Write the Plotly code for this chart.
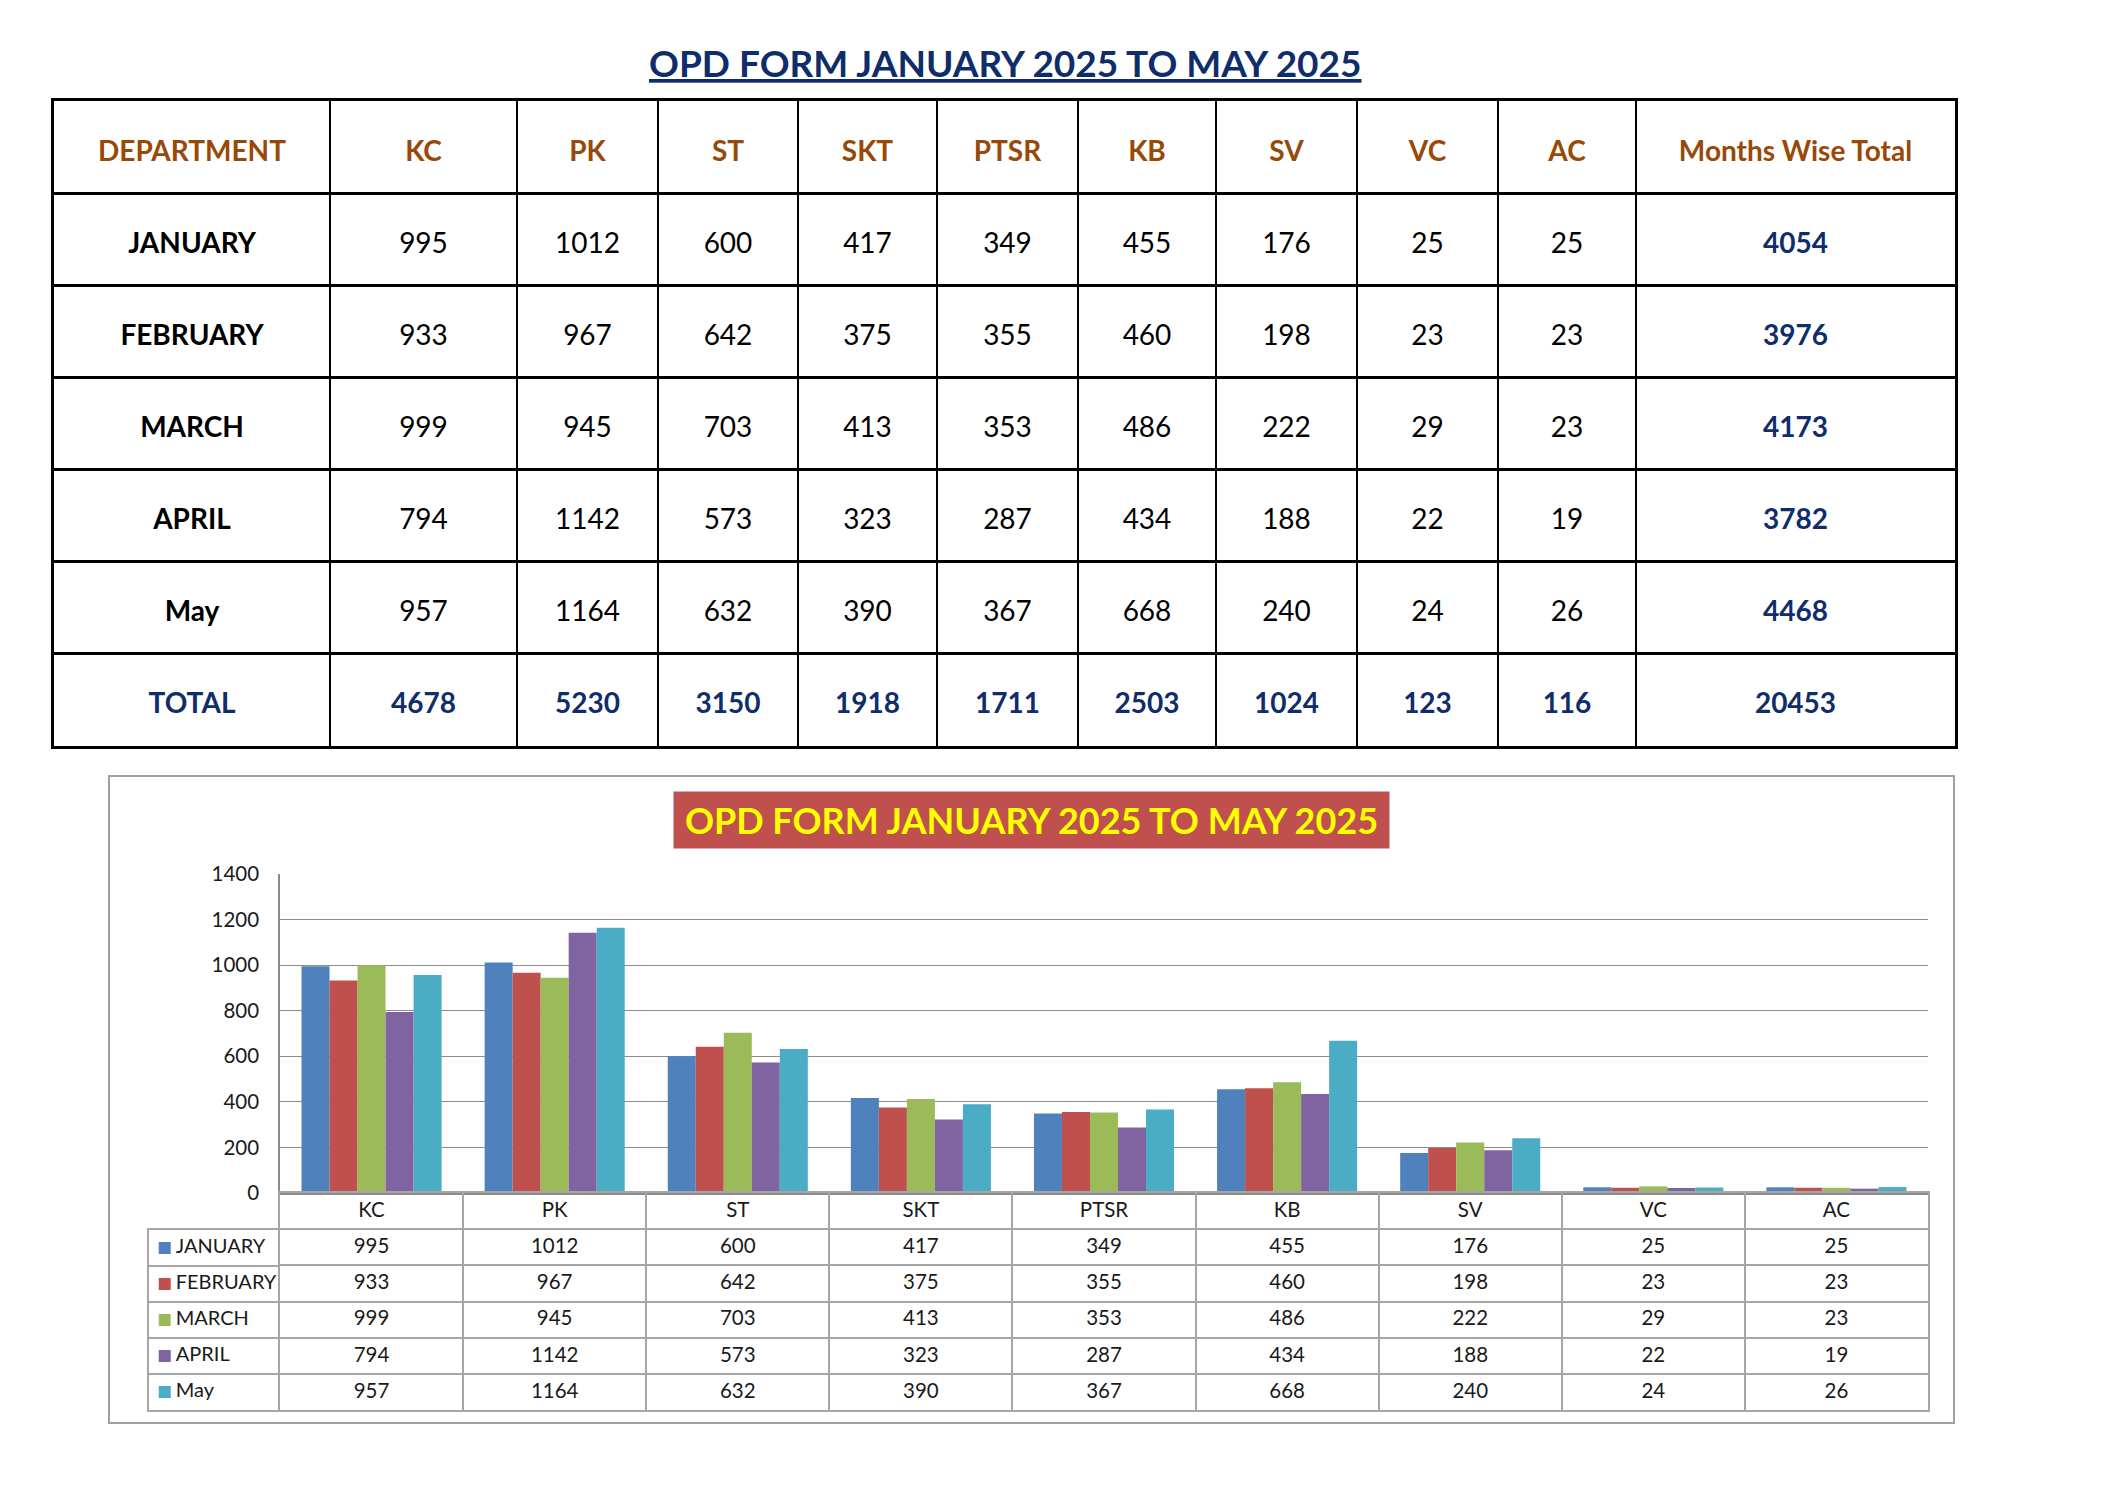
import plotly.graph_objects as go

# ---------------- data ----------------
title_text = "OPD FORM JANUARY 2025 TO MAY 2025"
departments = ["KC", "PK", "ST", "SKT", "PTSR", "KB", "SV", "VC", "AC"]
months = ["JANUARY", "FEBRUARY", "MARCH", "APRIL", "May"]
jan = [995, 1012, 600, 417, 349, 455, 176, 25, 25]
feb = [933, 967, 642, 375, 355, 460, 198, 23, 23]
mar = [999, 945, 703, 413, 353, 486, 222, 29, 23]
apr = [794, 1142, 573, 323, 287, 434, 188, 22, 19]
may = [957, 1164, 632, 390, 367, 668, 240, 24, 26]
month_totals = [4054, 3976, 4173, 3782, 4468]
dept_totals = [4678, 5230, 3150, 1918, 1711, 2503, 1024, 123, 116]
grand_total = 20453
first_header = "DEPARTMENT"
last_header = "Months Wise Total"
total_label = "TOTAL"
y_ticks = [0, 200, 400, 600, 800, 1000, 1200, 1400]

series = [jan, feb, mar, apr, may]

# ---------------- style ----------------
PAGE_OFF = 8                      # default body margin of the html page
W, H = 2104 - 2 * PAGE_OFF, 1488 - 2 * PAGE_OFF
FONT = "Lato"
NAVY = "#0F2D6B"
BROWN = "#984807"
GRID = "#8C8C8C"
TGRID = "#A6A6A6"
colors = ["#4F81BD", "#C0504D", "#9BBB59", "#8064A2", "#4BACC6"]
col_widths = [276, 187, 141, 140, 139, 141, 138, 141, 141, 138, 319]
ROW_TXT = 0.57                    # vertical text position inside a top-table row


def px_x(p):
    return (p - PAGE_OFF) / W


def px_y(p):
    return 1 - (p - PAGE_OFF) / H


bounds = [0]
for w in col_widths:
    bounds.append(bounds[-1] + w)
centers = [(bounds[i] + bounds[i + 1]) / 2 for i in range(len(col_widths))]

fig = go.Figure()

# ---------------- top table (x2 / y2) ----------------
def table_text(xs, ys, texts, color, bold, size=28):
    t = [f"<b>{s}</b>" if bold else str(s) for s in texts]
    fig.add_trace(go.Scatter(
        x=xs, y=ys, text=t, mode="text", xaxis="x2", yaxis="y2",
        textposition="middle center", cliponaxis=False, hoverinfo="skip",
        showlegend=False, textfont=dict(family=FONT, size=size, color=color)))

hdr = [first_header] + departments + [last_header]
table_text(centers, [ROW_TXT] * len(hdr), hdr, BROWN, True)
table_text([centers[0]] * len(months), [i + 1 + ROW_TXT for i in range(len(months))],
           months, "black", True)
for r, vals in enumerate(series):
    table_text(centers[1:10], [r + 1 + ROW_TXT] * len(vals), vals, "black", False)
table_text([centers[10]] * len(month_totals), [i + 1 + ROW_TXT for i in range(len(month_totals))],
           month_totals, NAVY, True)
tot_row = [total_label] + dept_totals + [grand_total]
table_text(centers, [6 + ROW_TXT] * len(tot_row), tot_row, NAVY, True)

# ---------------- bar chart (x / y) ----------------
for name, vals, c in zip(months, series, colors):
    fig.add_trace(go.Bar(x=departments, y=vals, name=name, marker=dict(color=c, line=dict(width=0)),
                         showlegend=False))

# ---------------- data table under chart (x3 / y3) ----------------
def chart_text(xs, ys, texts):
    fig.add_trace(go.Scatter(
        x=xs, y=ys, text=[str(s) for s in texts], mode="text", xaxis="x3", yaxis="y3",
        textposition="middle center", cliponaxis=False, hoverinfo="skip", showlegend=False,
        textfont=dict(family=FONT, size=20.5, color="#1A1A1A")))

idx = list(range(len(departments)))
chart_text(idx, [0.52] * len(idx), departments)
for r, vals in enumerate(series):
    chart_text(idx, [r + 1.52] * len(vals), vals)

# legend column (x4 / y4)
fig.add_trace(go.Scatter(
    x=[0.12] * len(months), y=[i + 0.5 for i in range(len(months))],
    text=["\u2009" + m for m in months],
    mode="markers+text", textposition="middle right", xaxis="x4", yaxis="y4",
    marker=dict(symbol="square", size=12, color=colors), cliponaxis=False,
    hoverinfo="skip", showlegend=False,
    textfont=dict(family=FONT, size=20, color="#1A1A1A")))

noaxis = dict(showticklabels=False, ticks="", zeroline=False)

fig.update_layout(
    width=W, height=H, margin=dict(l=0, r=0, t=0, b=0),
    paper_bgcolor="white", plot_bgcolor="white", template="none",
    font=dict(family=FONT, color="#1A1A1A"),
    barmode="group", bargap=0.235, bargroupgap=0,
    xaxis=dict(domain=[px_x(280), px_x(1928)], anchor="y", showticklabels=False, ticks="",
               showline=True, linecolor=GRID, linewidth=1.5, showgrid=False, zeroline=False,
               range=[-0.5, 8.5]),
    yaxis=dict(domain=[px_y(1193), px_y(874)], anchor="x", range=[0, 1400], tickvals=y_ticks,
               showgrid=True, gridcolor=GRID, gridwidth=1.2, showline=True, linecolor=GRID,
               linewidth=1.5, zeroline=False, ticks="", ticklabelstandoff=15,
               tickfont=dict(family=FONT, size=20.5, color="#1A1A1A")),
    xaxis2=dict(domain=[px_x(54), px_x(1955)], anchor="y2", range=[0, bounds[-1]],
                tickvals=bounds[1:-1], showgrid=True, gridcolor="black", gridwidth=2,
                showline=True, mirror=True, linecolor="black", linewidth=2.5, **noaxis),
    yaxis2=dict(domain=[px_y(746), px_y(101)], anchor="x2", range=[7, 0],
                tickvals=[1, 2, 3, 4, 5, 6], showgrid=True, gridcolor="black", gridwidth=2.5,
                showline=True, mirror=True, linecolor="black", linewidth=2.5, **noaxis),
    xaxis3=dict(domain=[px_x(280), px_x(1928)], anchor="y3", range=[-0.5, 8.5],
                tickvals=[i + 0.5 for i in range(8)], showgrid=True, gridcolor=TGRID, gridwidth=1.5,
                showline=True, mirror=True, linecolor=TGRID, linewidth=1.5, **noaxis),
    yaxis3=dict(domain=[px_y(1410), px_y(1193)], anchor="x3", range=[6, 0],
                tickvals=[1, 2, 3, 4, 5], showgrid=True, gridcolor=TGRID, gridwidth=1.5,
                showline=True, mirror=True, linecolor=TGRID, linewidth=1.5, **noaxis),
    xaxis4=dict(domain=[px_x(149), px_x(280)], anchor="y4", range=[0, 1], showgrid=False,
                showline=True, mirror=True, linecolor=TGRID, linewidth=1.5, **noaxis),
    yaxis4=dict(domain=[px_y(1410), px_y(1230)], anchor="x4", range=[5, 0],
                tickvals=[1, 2, 3, 4], showgrid=True, gridcolor=TGRID, gridwidth=1.5,
                showline=True, mirror=False, linecolor=TGRID, linewidth=1.5, **noaxis),
    shapes=[dict(type="rect", xref="paper", yref="paper", x0=px_x(109), x1=px_x(1954),
                 y0=px_y(1423), y1=px_y(776), line=dict(color="#A0A0A0", width=2),
                 fillcolor="rgba(0,0,0,0)", layer="below")],
    annotations=[
        dict(text=f"<b><u>{title_text}</u></b>", xref="paper", yref="paper",
             x=px_x(1005), y=px_y(63), showarrow=False, xanchor="center", yanchor="middle",
             font=dict(family=FONT, size=37, color=NAVY)),
        dict(text=f"<b>{title_text}</b>", xref="paper", yref="paper",
             x=px_x(1031.5), y=px_y(820), showarrow=False, xanchor="center", yanchor="middle",
             width=715, height=56, bgcolor="#C0504D", borderpad=0,
             font=dict(family=FONT, size=36, color="#FFFF00")),
    ],
)

fig.write_html("out.html")
